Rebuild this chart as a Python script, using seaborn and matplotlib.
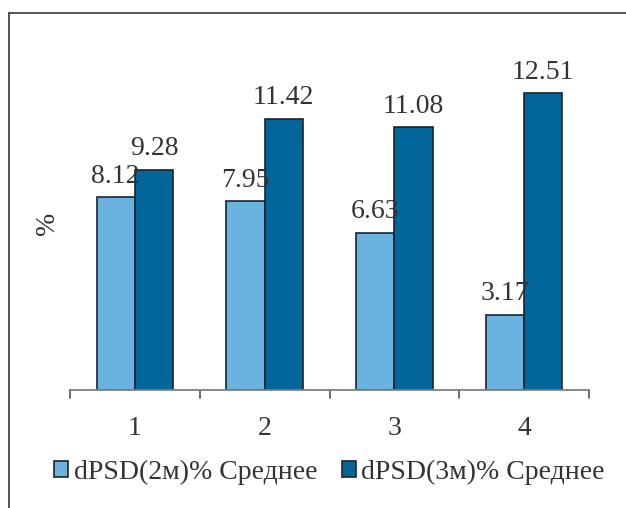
import matplotlib
matplotlib.use("Agg")
import matplotlib.pyplot as plt
from matplotlib.lines import Line2D
import seaborn as sns
import pandas as pd

categories = ["1", "2", "3", "4"]
series_names = ["dPSD(2м)% Среднее", "dPSD(3м)% Среднее"]
values_2m = [8.12, 7.95, 6.63, 3.17]
values_3m = [9.28, 11.42, 11.08, 12.51]
colors = ["#6AB2E0", "#02669B"]

df = pd.DataFrame({
    "cat": categories * 2,
    "series": [series_names[0]] * 4 + [series_names[1]] * 4,
    "val": values_2m + values_3m,
})

sns.set_theme(style="white")
plt.rcParams["font.family"] = ["Liberation Serif", "DejaVu Serif"]
text_color = "#333333"
FS = 20

fig = plt.figure(figsize=(6.26, 5.08), dpi=100)
ax = fig.add_axes([70 / 626, 1 - 390 / 508, 519 / 626, 332.5 / 508])

sns.barplot(data=df, x="cat", y="val", hue="series", palette=colors,
            width=0.59, edgecolor="#1a2530", linewidth=1.2, ax=ax,
            saturation=1)

for cont in ax.containers:
    labels = [f"{v:.2f}" for v in cont.datavalues]
    ax.bar_label(cont, labels=labels, padding=6, fontsize=FS, color=text_color)

ax.set_ylim(0, 14)
ax.set_xlim(-0.5, 3.5)
ax.set_xlabel("")
ax.set_ylabel("%", fontsize=FS, color=text_color, labelpad=7)
ax.set_yticks([])
for s in ["top", "right", "left"]:
    ax.spines[s].set_visible(False)
ax.spines["bottom"].set_color("#808080")
ax.spines["bottom"].set_linewidth(1.3)

ax.set_xticks([0, 1, 2, 3])
ax.set_xticklabels(categories, fontsize=FS, color=text_color)
ax.tick_params(axis="x", length=0, pad=19)
for xb in [-0.5, 0.5, 1.5, 2.5, 3.5]:
    ax.plot([xb, xb], [0, -0.33], color="#606060", lw=1.3, clip_on=False)

handles, _ = ax.get_legend_handles_labels()
ax.legend(handles, series_names, loc="center", bbox_to_anchor=(0.5, -(472 - 390) / 332.5),
          ncol=2, frameon=False, fontsize=FS, handlelength=0.5, handleheight=0.5,
          handletextpad=0.2, columnspacing=0.9, labelcolor=text_color,
          borderaxespad=0)

fig.add_artist(Line2D([9 / 626, 1.0], [1 - 13 / 508, 1 - 13 / 508],
                      color="#444444", lw=1.3, transform=fig.transFigure))
fig.add_artist(Line2D([9 / 626, 9 / 626], [0, 1 - 13 / 508],
                      color="#444444", lw=1.3, transform=fig.transFigure))

fig.savefig("out.png", dpi=100)
